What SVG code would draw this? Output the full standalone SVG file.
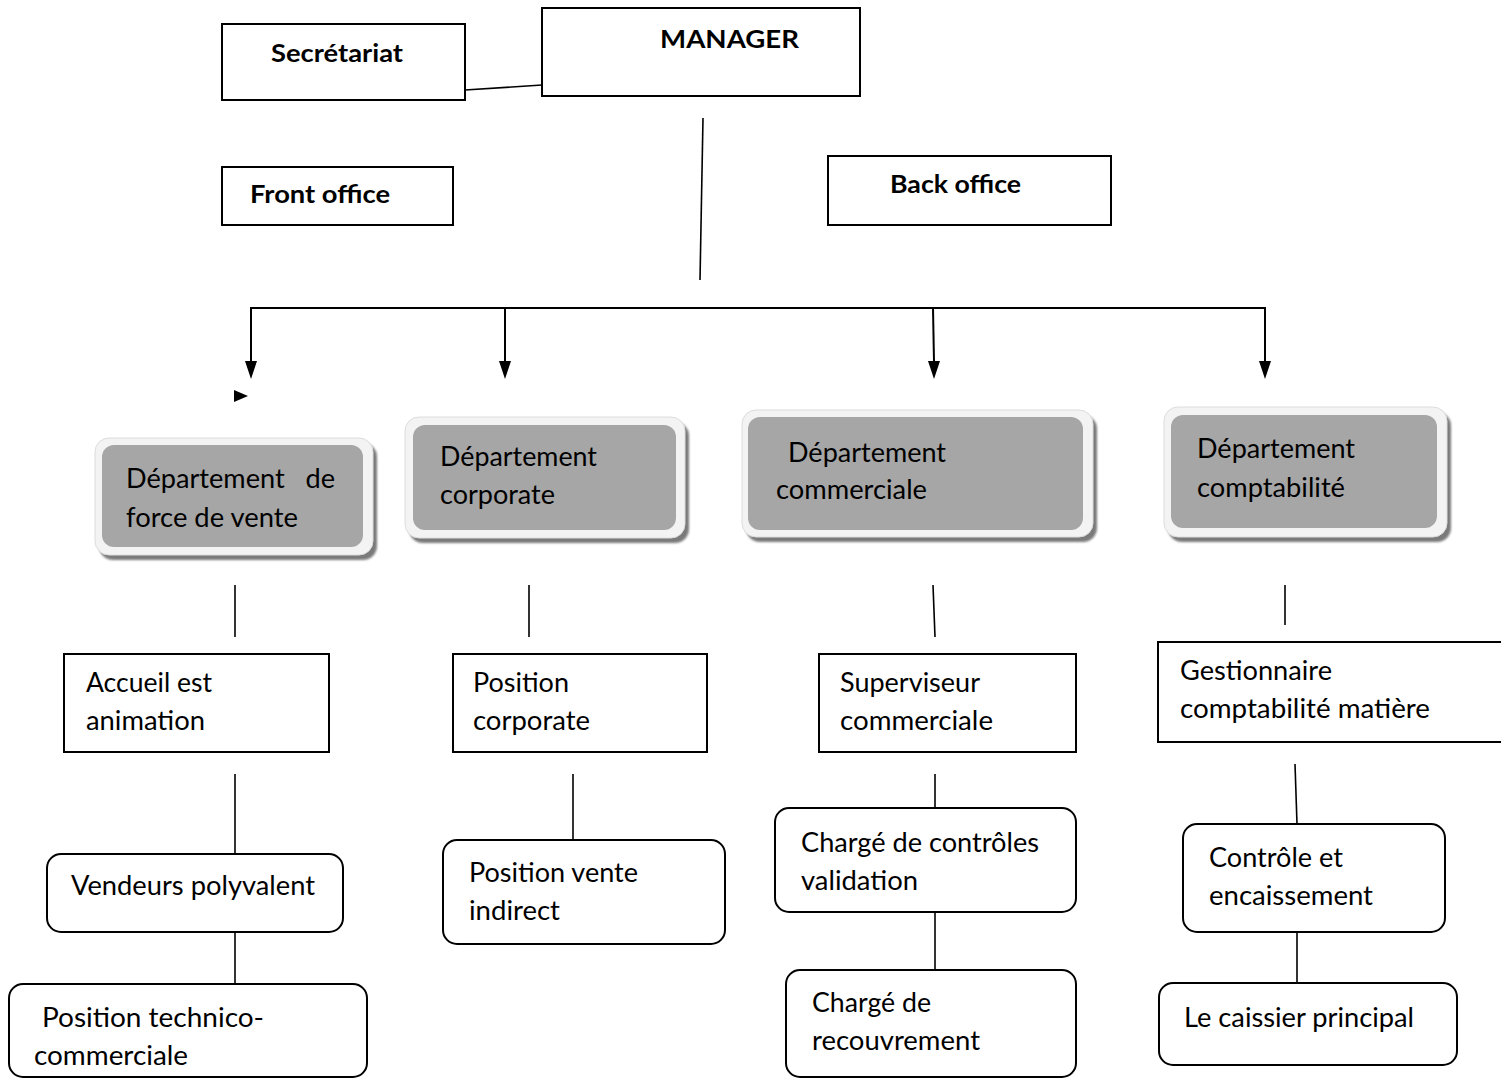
<svg xmlns="http://www.w3.org/2000/svg" width="1501" height="1079" viewBox="0 0 1501 1079">
  <style>
    .box { fill: #ffffff; stroke: #000000; stroke-width: 2; }
    .rbox { fill: #ffffff; stroke: #000000; stroke-width: 2; }
    .t { font-family: Lato, "Liberation Sans", sans-serif; font-size: 26px; fill: #000000; }
    .b { font-family: Lato, "Liberation Sans", sans-serif; font-size: 25px; font-weight: bold; fill: #000000; }
    .ln { stroke: #000000; stroke-width: 1.6; fill: none; }
    .sh { fill: #7a7a7a; filter: url(#blur); }
    .outer { fill: #f3f3f3; stroke: #dcdcdc; stroke-width: 1; }
    .inner { fill: #a6a6a6; }
  </style>
  <defs>
    <filter id="blur" x="-10%" y="-10%" width="120%" height="120%">
      <feGaussianBlur stdDeviation="1.2"/>
    </filter>
  </defs>
  <rect width="1501" height="1079" fill="#ffffff"/>

  <g id="connectors">
    <line class="ln" x1="465" y1="90" x2="542" y2="85"/>
    <line class="ln" x1="703" y1="118" x2="700" y2="280"/>
    <polyline class="ln" points="251,362 251,308 1265,308 1265,362" style="stroke-width:2"/>
    <path d="M245,361 L257,361 L251,379 Z" fill="#000"/>
    <line class="ln" x1="505" y1="308" x2="505" y2="362" style="stroke-width:2"/>
    <path d="M499,361 L511,361 L505,379 Z" fill="#000"/>
    <line class="ln" x1="933" y1="308" x2="934" y2="362" style="stroke-width:2"/>
    <path d="M928,361 L940,361 L934,379 Z" fill="#000"/>
    <path d="M1259,361 L1271,361 L1265,379 Z" fill="#000"/>
    <path d="M234,390 L248,396 L234,402 Z" fill="#000"/>

    <line class="ln" x1="235" y1="585" x2="235" y2="637"/>
    <line class="ln" x1="529" y1="585" x2="529" y2="637"/>
    <line class="ln" x1="933" y1="585" x2="935" y2="637"/>
    <line class="ln" x1="1285" y1="585" x2="1285" y2="625"/>

    <line class="ln" x1="235" y1="774" x2="235" y2="854"/>
    <line class="ln" x1="235" y1="932" x2="235" y2="984"/>
    <line class="ln" x1="573" y1="774" x2="573" y2="840"/>
    <line class="ln" x1="935" y1="774" x2="935" y2="808"/>
    <line class="ln" x1="935" y1="912" x2="935" y2="970"/>
    <line class="ln" x1="1295" y1="764" x2="1297" y2="824"/>
    <line class="ln" x1="1297" y1="932" x2="1297" y2="983"/>
  </g>

  <g id="secretariat">
    <rect class="box" x="222" y="24" width="243" height="76"/>
    <text class="b" x="271" y="62" textLength="132" lengthAdjust="spacingAndGlyphs">Secrétariat</text>
  </g>
  <g id="manager">
    <rect class="box" x="542" y="8" width="318" height="88"/>
    <text class="b" x="660" y="48" textLength="139" lengthAdjust="spacingAndGlyphs">MANAGER</text>
  </g>
  <g id="front-office">
    <rect class="box" x="222" y="167" width="231" height="58"/>
    <text class="b" x="250" y="203" textLength="140" lengthAdjust="spacingAndGlyphs">Front office</text>
  </g>
  <g id="back-office">
    <rect class="box" x="828" y="156" width="283" height="69"/>
    <text class="b" x="890" y="193" textLength="131" lengthAdjust="spacingAndGlyphs">Back office</text>
  </g>

  <g id="dept-force-vente">
    <rect class="sh" x="99" y="443" width="278" height="117" rx="14"/>
    <rect class="outer" x="95" y="438" width="278" height="117" rx="14"/>
    <rect class="inner" x="102" y="445" width="261" height="102" rx="12"/>
    <text class="t" x="126" y="488" textLength="209" lengthAdjust="spacingAndGlyphs" xml:space="preserve">Département   de</text>
    <text class="t" x="126" y="527" textLength="172" lengthAdjust="spacingAndGlyphs">force de vente</text>
  </g>
  <g id="dept-corporate">
    <rect class="sh" x="409" y="422" width="280" height="121" rx="14"/>
    <rect class="outer" x="405" y="417" width="280" height="121" rx="14"/>
    <rect class="inner" x="413" y="425" width="263" height="105" rx="12"/>
    <text class="t" x="440" y="466" textLength="157" lengthAdjust="spacingAndGlyphs">Département</text>
    <text class="t" x="440" y="504" textLength="115" lengthAdjust="spacingAndGlyphs">corporate</text>
  </g>
  <g id="dept-commerciale">
    <rect class="sh" x="746" y="415" width="351" height="127" rx="14"/>
    <rect class="outer" x="742" y="410" width="351" height="127" rx="14"/>
    <rect class="inner" x="748" y="417" width="335" height="113" rx="12"/>
    <text class="t" x="788" y="462" textLength="158" lengthAdjust="spacingAndGlyphs">Département</text>
    <text class="t" x="776" y="499" textLength="151" lengthAdjust="spacingAndGlyphs">commerciale</text>
  </g>
  <g id="dept-comptabilite">
    <rect class="sh" x="1168" y="412" width="283" height="130" rx="14"/>
    <rect class="outer" x="1164" y="407" width="283" height="130" rx="14"/>
    <rect class="inner" x="1171" y="415" width="266" height="113" rx="12"/>
    <text class="t" x="1197" y="458" textLength="158" lengthAdjust="spacingAndGlyphs">Département</text>
    <text class="t" x="1197" y="497" textLength="148" lengthAdjust="spacingAndGlyphs">comptabilité</text>
  </g>

  <g id="accueil">
    <rect class="box" x="64" y="654" width="265" height="98"/>
    <text class="t" x="86" y="692" textLength="126" lengthAdjust="spacingAndGlyphs">Accueil est</text>
    <text class="t" x="86" y="730" textLength="119" lengthAdjust="spacingAndGlyphs">animation</text>
  </g>
  <g id="position-corporate">
    <rect class="box" x="453" y="654" width="254" height="98"/>
    <text class="t" x="473" y="692" textLength="96" lengthAdjust="spacingAndGlyphs">Position</text>
    <text class="t" x="473" y="730" textLength="117" lengthAdjust="spacingAndGlyphs">corporate</text>
  </g>
  <g id="superviseur">
    <rect class="box" x="819" y="654" width="257" height="98"/>
    <text class="t" x="840" y="692" textLength="140" lengthAdjust="spacingAndGlyphs">Superviseur</text>
    <text class="t" x="840" y="730" textLength="153" lengthAdjust="spacingAndGlyphs">commerciale</text>
  </g>
  <g id="gestionnaire">
    <rect class="box" x="1158" y="642" width="350" height="100"/>
    <text class="t" x="1180" y="680" textLength="152" lengthAdjust="spacingAndGlyphs">Gestionnaire</text>
    <text class="t" x="1180" y="718" textLength="250" lengthAdjust="spacingAndGlyphs">comptabilité matière</text>
  </g>

  <g id="vendeurs">
    <rect class="rbox" x="47" y="854" width="296" height="78" rx="14"/>
    <text class="t" x="71" y="895" textLength="244" lengthAdjust="spacingAndGlyphs">Vendeurs polyvalent</text>
  </g>
  <g id="technico">
    <rect class="rbox" x="9" y="984" width="358" height="93" rx="14"/>
    <text class="t" x="42" y="1027" textLength="222" lengthAdjust="spacingAndGlyphs">Position technico-</text>
    <text class="t" x="34" y="1065" textLength="154" lengthAdjust="spacingAndGlyphs">commerciale</text>
  </g>
  <g id="vente-indirect">
    <rect class="rbox" x="443" y="840" width="282" height="104" rx="14"/>
    <text class="t" x="469" y="882" textLength="169" lengthAdjust="spacingAndGlyphs">Position vente</text>
    <text class="t" x="469" y="920" textLength="91" lengthAdjust="spacingAndGlyphs">indirect</text>
  </g>
  <g id="controles-validation">
    <rect class="rbox" x="775" y="808" width="301" height="104" rx="14"/>
    <text class="t" x="801" y="852" textLength="238" lengthAdjust="spacingAndGlyphs">Chargé de contrôles</text>
    <text class="t" x="801" y="890" textLength="117" lengthAdjust="spacingAndGlyphs">validation</text>
  </g>
  <g id="recouvrement">
    <rect class="rbox" x="786" y="970" width="290" height="107" rx="14"/>
    <text class="t" x="812" y="1012" textLength="119" lengthAdjust="spacingAndGlyphs">Chargé de</text>
    <text class="t" x="812" y="1050" textLength="168" lengthAdjust="spacingAndGlyphs">recouvrement</text>
  </g>
  <g id="controle-encaissement">
    <rect class="rbox" x="1183" y="824" width="262" height="108" rx="14"/>
    <text class="t" x="1209" y="867" textLength="134" lengthAdjust="spacingAndGlyphs">Contrôle et</text>
    <text class="t" x="1209" y="905" textLength="164" lengthAdjust="spacingAndGlyphs">encaissement</text>
  </g>
  <g id="caissier">
    <rect class="rbox" x="1159" y="983" width="298" height="82" rx="14"/>
    <text class="t" x="1184" y="1027" textLength="230" lengthAdjust="spacingAndGlyphs">Le caissier principal</text>
  </g>
</svg>
